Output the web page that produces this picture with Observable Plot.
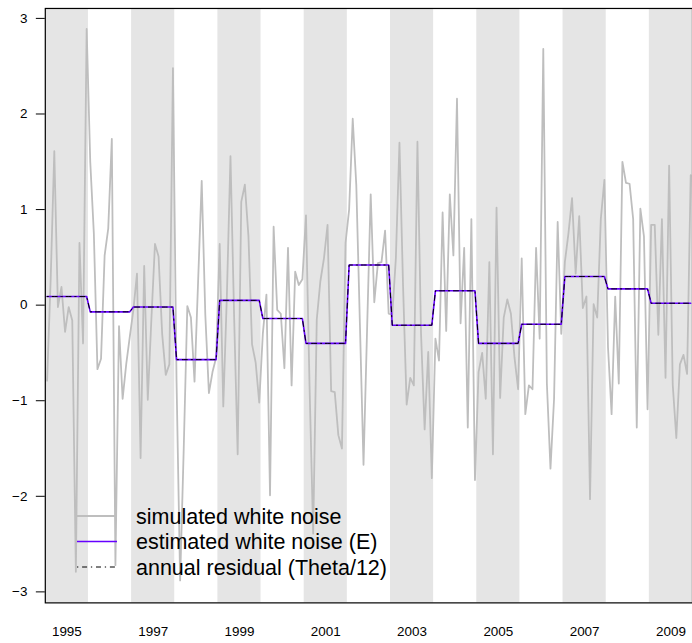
<!DOCTYPE html>
<html>
<head>
<meta charset="utf-8">
<script src="https://cdn.jsdelivr.net/npm/d3@7"></script>
<script src="https://cdn.jsdelivr.net/npm/@observablehq/plot@0.6"></script>
<style>
  html, body { margin: 0; padding: 0; background: white; overflow: hidden; }
  #wrap { position: relative; width: 692px; height: 643px; overflow: hidden; }
  #legend { position: absolute; left: 0; top: 0; pointer-events: none; }
</style>
</head>
<body>
<div id="wrap"></div>
<script>
// ---- data ----
const years = [1995, 1996, 1997, 1998, 1999, 2000, 2001, 2002, 2003, 2004, 2005, 2006, 2007, 2008, 2009];

// monthly simulated white noise (12 values per year)
const noise = [
  -0.79, 0.28, 1.61, -0.02, 0.19, -0.28, -0.02, -0.16, -2.79, 0.65, -0.40, 2.89,   // 1995
  1.50, 0.75, -0.67, -0.56, 0.52, 0.80, 1.74, -2.72, -0.22, -0.98, -0.62, -0.33,   // 1996
  -0.05, 0.33, -1.60, 0.41, -0.99, -0.15, 0.64, 0.51, -0.30, -0.73, -0.62, 2.48,   // 1997
  -0.80, -2.88, -1.50, -0.01, -0.13, -0.80, 0.25, 1.30, -0.10, -0.92, -0.70, -0.55, // 1998
  0.64, -1.06, 0.10, 1.56, -0.10, -1.56, 1.08, 1.26, 0.72, -0.41, -0.60, -1.02,    // 1999
  -0.30, 0.11, -1.99, 0.82, -0.05, -0.09, -0.66, 0.60, -0.84, 0.35, 0.21, 0.27,    // 2000
  0.94, -0.86, -2.39, -0.15, 0.25, 0.49, 0.84, -0.90, -0.91, -1.36, -1.50, 0.65,   // 2001
  1.00, 1.95, 1.25, -0.20, -1.67, -0.25, 1.16, 0.03, 0.44, 0.45, 0.78, -0.09,      // 2002
  -0.10, 0.49, 1.70, 0.20, -1.04, -0.76, -0.84, 1.71, -0.30, -1.30, -0.49, -1.81,  // 2003
  -0.35, -0.58, 0.97, -0.27, 1.16, 0.52, 2.16, -0.19, 0.60, -1.28, 0.90, -1.83,    // 2004
  -0.70, -0.50, -0.98, 0.45, -1.56, 1.02, -0.97, -0.13, 0.06, -0.09, -0.55, -0.88, // 2005
  0.49, -1.14, -0.84, -0.88, 0.60, -0.35, 2.68, -0.82, -1.71, -0.98, 0.87, -0.30,  // 2006
  0.45, 0.75, 1.12, 0.33, 0.93, -0.03, 0.09, -2.03, 0.01, -0.13, 0.90, 1.31,       // 2007
  -0.44, -1.14, 0.09, -0.82, 1.50, 1.28, 1.27, 0.90, -1.28, 1.01, 0.72, -1.09,     // 2008
  0.84, 0.84, -0.31, 0.90, -0.76, 1.46, -0.83, -1.39, -0.62, -0.52, -0.72, 1.36    // 2009
];

// annual residual (Theta/12) = estimated white noise (E), one value per year
const annualResidual = [0.09, -0.07, -0.02, -0.57, 0.05, -0.14, -0.40, 0.42, -0.21, 0.15, -0.40, -0.20, 0.30, 0.17, 0.02];

const bandYears = [1995, 1997, 1999, 2001, 2003, 2005, 2007, 2009];
const tickLabels = ["1995", "1997", "1999", "2001", "2003", "2005", "2007", "2009"];
const yTicks = [-3, -2, -1, 0, 1, 2, 3];
const yTickLabels = ["\u22123", "\u22122", "\u22121", "0", "1", "2", "3"];

const legendLabels = ["simulated white noise", "estimated white noise (E)", "annual residual (Theta/12)"];

// ---- build table ----
const rows = noise.map((v, i) => ({
  t: years[0] + (i + 0.5) / 12,
  noise: v,
  annual: annualResidual[Math.floor(i / 12)]
}));

const GRAY = "#bebebe";
const BLUE = "#6600ff";
const DASH = "1.3,3.8,5,3.8";
const FONT = "'Liberation Sans', Arial, Helvetica, sans-serif";

const chart = Plot.plot({
  width: 695,
  height: 643,
  marginLeft: 45,
  marginRight: 0,
  marginTop: 8,
  marginBottom: 38,
  style: { fontFamily: FONT, fontSize: "13.5px", color: "black", background: "white" },
  x: { type: "linear", domain: [1995, 2010] },
  y: { domain: [-3.115, 3.104] },
  marks: [
    Plot.rect(bandYears, { x1: d => d, x2: d => d + 1, fill: "#e5e5e5" }),
    Plot.line(rows, { x: "t", y: "noise", stroke: GRAY, strokeWidth: 1.8, clip: true }),
    Plot.line(rows, { x: "t", y: "annual", stroke: BLUE, strokeWidth: 1.6, clip: true }),
    Plot.line(rows, { x: "t", y: "annual", stroke: "black", strokeWidth: 1, strokeDasharray: DASH, clip: true }),
    Plot.frame({ stroke: "black", strokeWidth: 1.2 }),
    Plot.axisY({
      ticks: yTicks,
      tickFormat: d => yTickLabels[yTicks.indexOf(Math.round(d))],
      tickSize: 9, tickPadding: 9, label: null, fontSize: 13.5
    }),
    Plot.axisX({
      ticks: bandYears.map(y => y + 0.5),
      tickFormat: (d) => tickLabels[bandYears.indexOf(Math.round(d - 0.5))],
      tickSize: 0, tickPadding: 24, label: null, fontSize: 13.5
    })
  ]
});

const wrap = document.getElementById("wrap");
wrap.appendChild(chart);

// ---- legend drawn inside the plot area (bottom-left, no box) ----
const ns = "http://www.w3.org/2000/svg";
const leg = document.createElementNS(ns, "svg");
leg.setAttribute("id", "legend");
leg.setAttribute("width", 692);
leg.setAttribute("height", 643);
const styles = [
  { stroke: GRAY, width: 1.8, dash: null },
  { stroke: BLUE, width: 1.6, dash: null },
  { stroke: "black", width: 1, dash: DASH }
];
legendLabels.forEach((lab, i) => {
  const y = 516 + i * 25.5;
  const ln = document.createElementNS(ns, "line");
  ln.setAttribute("x1", 77); ln.setAttribute("x2", 117);
  ln.setAttribute("y1", y); ln.setAttribute("y2", y);
  ln.setAttribute("stroke", styles[i].stroke);
  ln.setAttribute("stroke-width", styles[i].width);
  if (styles[i].dash) ln.setAttribute("stroke-dasharray", styles[i].dash);
  leg.appendChild(ln);
  const tx = document.createElementNS(ns, "text");
  tx.setAttribute("x", 136);
  tx.setAttribute("y", y);
  tx.setAttribute("dy", "0.35em");
  tx.setAttribute("font-family", FONT);
  tx.setAttribute("font-size", "21.5px");
  tx.setAttribute("fill", "black");
  tx.textContent = lab;
  leg.appendChild(tx);
});
wrap.appendChild(leg);
</script>
</body>
</html>
